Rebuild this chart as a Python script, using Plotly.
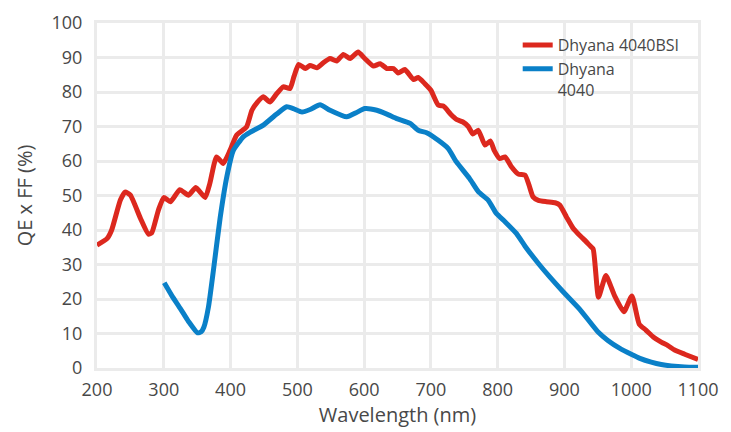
import plotly.graph_objects as go

x_ticks = [200, 300, 400, 500, 600, 700, 800, 900, 1000, 1100]
y_ticks = [0, 10, 20, 30, 40, 50, 60, 70, 80, 90, 100]

bsi_wl = [200, 215, 222, 235, 242, 250, 265, 277, 282, 292, 300, 310, 324, 337, 348, 362, 369, 379, 389, 399,
          409, 424, 432, 440, 449, 459, 469, 479, 489, 495, 502, 512, 519, 529, 539, 549, 559, 569, 579, 591,
          601, 614, 624, 634, 644, 651, 661, 674, 681, 691, 700, 711, 719, 730, 739, 748, 756, 763, 771, 781,
          789, 795, 803, 811, 820, 831, 841, 847, 853, 861, 873, 886, 893, 903, 913, 920, 928, 938, 943, 951,
          962, 975, 989, 1001, 1012, 1022, 1033, 1045, 1055, 1065, 1080, 1100]
bsi_qe = [35.6, 37.5, 40, 48.7, 51, 50.1, 43.4, 38.8, 39.2, 45.8, 49.4, 48.2, 51.7, 50.1, 52.3, 49.4, 53.5, 61.2, 59.3, 63,
          67.5, 69.9, 74.7, 77, 78.6, 77.1, 79.5, 81.5, 81, 84.5, 88, 86.8, 87.7, 87, 88.5, 89.7, 89, 90.9, 89.7, 91.6,
          89.7, 87.5, 88.2, 86.8, 86.8, 85.5, 86.5, 83.6, 84.2, 82.4, 80.5, 76.2, 75.9, 73.5, 72, 71.3, 70, 67.8, 68.9, 64.6,
          65.8, 63, 60.7, 61.2, 58.5, 56.2, 55.9, 53, 49.6, 48.6, 48.2, 47.9, 47.2, 43.8, 40.5, 39, 37.5, 35.5, 34.5, 20.5,
          26.8, 21, 16.3, 20.9, 12.7, 11, 9, 7.5, 6.5, 5.2, 4, 2.5]

std_wl = [300.7, 312, 324.6, 337, 350.5, 356, 360, 367, 374.4, 384.4, 394.5, 404, 419, 429, 449, 469, 484, 494, 507, 520,
          534, 549, 574, 588, 601, 619, 634, 649, 669, 681, 693.6, 711, 726, 738, 758, 771, 786, 798, 811, 828,
          841, 861, 878, 898, 923, 950, 965, 983, 1000, 1013, 1030, 1045, 1060, 1080, 1100]
std_qe = [24.7, 21, 17.3, 13.5, 10.2, 10.5, 11.8, 17.8, 28.4, 43.5, 55.5, 63, 67, 68.3, 70.4, 73.6, 75.7, 75.2, 74.2, 75,
          76.3, 74.7, 72.8, 74, 75.2, 74.7, 73.6, 72.3, 70.9, 68.9, 68.2, 66, 63.6, 59.8, 54.9, 51.1, 48.6, 44.8, 42.4, 39,
          35.3, 30.3, 26.4, 22.1, 17, 10.5, 8, 5.7, 4, 2.8, 1.7, 1, 0.6, 0.3, 0.2]

RED = "#dc281e"
BLUE = "#0a80c8"
GRID = "#ebebeb"
TXT = "#484848"
FONT = "Open Sans, Noto Sans, sans-serif"

fig = go.Figure()
fig.add_trace(go.Scatter(x=bsi_wl, y=bsi_qe, mode="lines", name="Dhyana 4040BSI",
                         line=dict(color=RED, width=5, shape="spline", smoothing=0.5)))
fig.add_trace(go.Scatter(x=std_wl, y=std_qe, mode="lines", name="Dhyana<br>4040",
                         line=dict(color=BLUE, width=5, shape="spline", smoothing=0.5)))

# white panel behind the legend (hides gridlines there, as in the reference)
fig.add_shape(type="rect", xref="paper", yref="paper", x0=0.67, x1=0.995, y0=0.805, y1=0.995,
              fillcolor="white", line=dict(width=0), layer="between")

fig.update_layout(
    width=723, height=424,
    margin=dict(l=89, r=33, t=15, b=64, autoexpand=False),
    paper_bgcolor="white", plot_bgcolor="white",
    font=dict(family=FONT, color=TXT, size=16),
    legend=dict(x=0.70, xanchor="left", y=0.985, yanchor="top", bgcolor="rgba(0,0,0,0)",
                font=dict(size=16, color=TXT), borderwidth=0, valign="top"),
)
fig.update_xaxes(range=[200, 1100], tickvals=x_ticks, ticktext=[str(v) for v in x_ticks],
                 showgrid=True, gridcolor=GRID, gridwidth=3, zeroline=False, automargin=False,
                 showline=True, linecolor=GRID, linewidth=3, mirror=True,
                 ticks="", ticklabelstandoff=3, tickfont=dict(size=18),
                 title=dict(text="Wavelength (nm)", font=dict(size=20), standoff=8))
fig.update_yaxes(range=[0, 100], tickvals=y_ticks, ticktext=[str(v) for v in y_ticks],
                 showgrid=True, gridcolor=GRID, gridwidth=3, zeroline=False, automargin=False,
                 showline=True, linecolor=GRID, linewidth=3, mirror=True,
                 ticks="", ticklabelstandoff=8, tickfont=dict(size=18),
                 title=dict(text="QE x FF (%)", font=dict(size=20), standoff=14))

fig.write_html("out.html")
